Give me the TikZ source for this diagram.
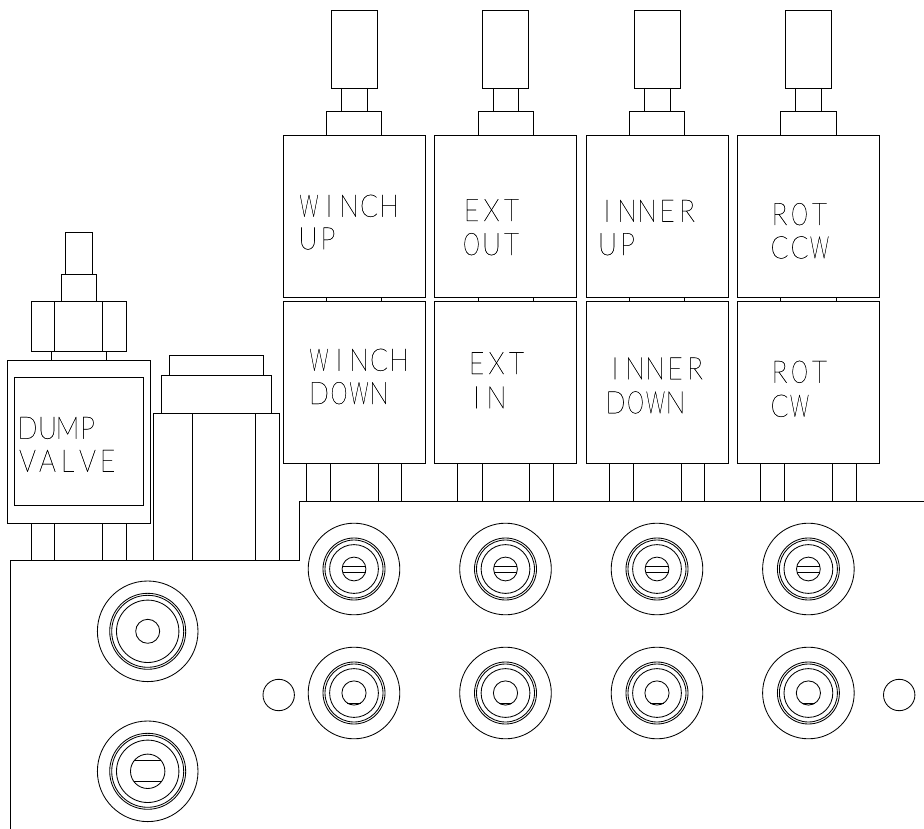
\documentclass[tikz,border=0pt]{standalone}
\usepackage{graphicx}
\usepackage{fontspec}
\newfontfamily\cadfont[FakeStretch=0.85,FakeBold=0.7]{Lato Thin}
\newcommand{\cadL}[1]{\makebox[20pt][c]{\ifx#1W\scalebox{0.72}[1]{W}\else\ifx#1O\scalebox{0.82}[1]{O}\else#1\fi\fi}}
\newcommand{\cadW}[1]{\cadLoop#1\relax}
\def\cadLoop#1{\ifx#1\relax\else\cadL{#1}\expandafter\cadLoop\fi}
\tikzset{
  ln/.style={line width=0.85pt,draw=black,line join=miter},
  cad/.style={anchor=base west,inner sep=0pt,outer sep=0pt,font=\cadfont\fontsize{31pt}{31pt}\selectfont},
}
\begin{document}
\begin{tikzpicture}[x=1pt,y=-1pt]
\useasboundingbox (0,0) rectangle (924,829);
% switches
\foreach \n/\dx in {1/0,2/151.5,3/303,4/454.4}{
  \begin{scope}[xshift=\dx pt]
    \draw[ln] (331.3,10) rectangle (377,88);
    \draw[ln] (341.5,88) -- (341.5,111) (367,88) -- (367,111);
    \draw[ln] (326.5,135.3) -- (326.5,111) -- (381.7,111) -- (381.7,135.3);
    \draw[ln] (283,135.3) rectangle (425.3,297.7);
    \draw[ln] (326.5,297.7) -- (326.5,301) (381.7,297.7) -- (381.7,301);
    \draw[ln] (283,301) rectangle (425.3,463.7);
    \foreach \fx in {306.3,330.5,378,401.7}{\draw[ln] (\fx,463.7) -- (\fx,501.3);}
    \draw[ln] (354,569) circle[radius=45.8] circle[radius=31] circle[radius=29] circle[radius=24.4] circle[radius=11.9];
    \draw[ln] (342.5,566) -- (365.5,566) (342.5,572) -- (365.5,572);
    \draw[ln] (354,693) circle[radius=45.8] circle[radius=31] circle[radius=29] circle[radius=24.4] circle[radius=12.1];
    \draw[ln] (347.3,703.7) -- (360.7,703.7);
  \end{scope}
}
% plate outline
\coordinate (pe) at (924,501.3);
\coordinate (pb) at (10,829);
\draw[ln] (pe) -- (299.3,501.3) -- (299.3,560.7) -- (10,560.7) -- (pb);
% dump valve
\draw[ln] (65,274.3) -- (65,232.7) -- (92.7,232.7) -- (92.7,274.3);
\draw[ln] (61.7,274.3) rectangle (96,301.7);
\draw[ln] (31.3,301.7) rectangle (126.3,351.7);
\draw[ln] (54.7,301.7) -- (54.7,351.7) (102.7,301.7) -- (102.7,351.7);
\draw[ln] (51.7,351.7) -- (51.7,360.3) (106.7,351.7) -- (106.7,360.3);
\draw[ln] (7.7,360.3) rectangle (150,523.3);
\draw[ln] (14.3,377) rectangle (143.3,505.3);
\foreach \fx in {31.3,54.7,102.7,126.3}{\draw[ln] (\fx,523.3) -- (\fx,560.7);}
% middle block
\draw[ln] (169,375.3) -- (169,355.3) -- (263.7,355.3) -- (263.7,375.3);
\draw[ln] (161.3,413) -- (161.3,375.3) -- (271.7,375.3) -- (271.7,413);
\draw[ln] (153.3,560.7) -- (153.3,413) -- (279.3,413) -- (279.3,560.7);
\draw[ln] (192.3,413) -- (192.3,560.7) (255.3,413) -- (255.3,560.7);
% left ports
\draw[ln] (147.7,631.3) circle[radius=50.3] circle[radius=38] circle[radius=36] circle[radius=31.2] circle[radius=12];
\draw[ln] (147.7,771.3) circle[radius=50.3] circle[radius=38] circle[radius=36] circle[radius=31.2] circle[radius=17.2];
\draw[ln] (134,760.8) -- (161.4,760.8) (134,781.8) -- (161.4,781.8);
% small holes
\draw[ln] (278.7,695) circle[radius=15.7];
\draw[ln] (899.2,695) circle[radius=15.7];
% labels
\node[cad] (a1) at (299,216.7) {\cadW{WINCH}};
\node[cad] (a2) at (298,249.3) {\cadW{UP}};
\node[cad] (a3) at (461.5,221) {\cadW{EXT}};
\node[cad] (a4) at (461.5,255) {\cadW{OUT}};
\node[cad] (a5) at (597,221.7) {\cadW{INNER}};
\node[cad] (a6) at (597.5,255) {\cadW{UP}};
\node[cad] (a7) at (769.5,225) {\cadW{ROT}};
\node[cad] (a8) at (769.5,258.3) {\cadW{CCW}};
\node[cad] (b1) at (309,370.7) {\cadW{WINCH}};
\node[cad] (b2) at (309,404) {\cadW{DOWN}};
\node[cad] (b3) at (466.5,374) {\cadW{EXT}};
\node[cad] (b4) at (466.5,408.3) {\cadW{IN}};
\node[cad] (b5) at (605,379.3) {\cadW{INNER}};
\node[cad] (b6) at (605.5,413.3) {\cadW{DOWN}};
\node[cad] (b7) at (769.5,382.7) {\cadW{ROT}};
\node[cad] (b8) at (769.5,416.7) {\cadW{CW}};
\node[cad] (c1) at (17.5,438.7) {\cadW{DUMP}};
\node[cad] (c2) at (17.5,471.7) {\cadW{VALVE}};
\end{tikzpicture}
\end{document}
